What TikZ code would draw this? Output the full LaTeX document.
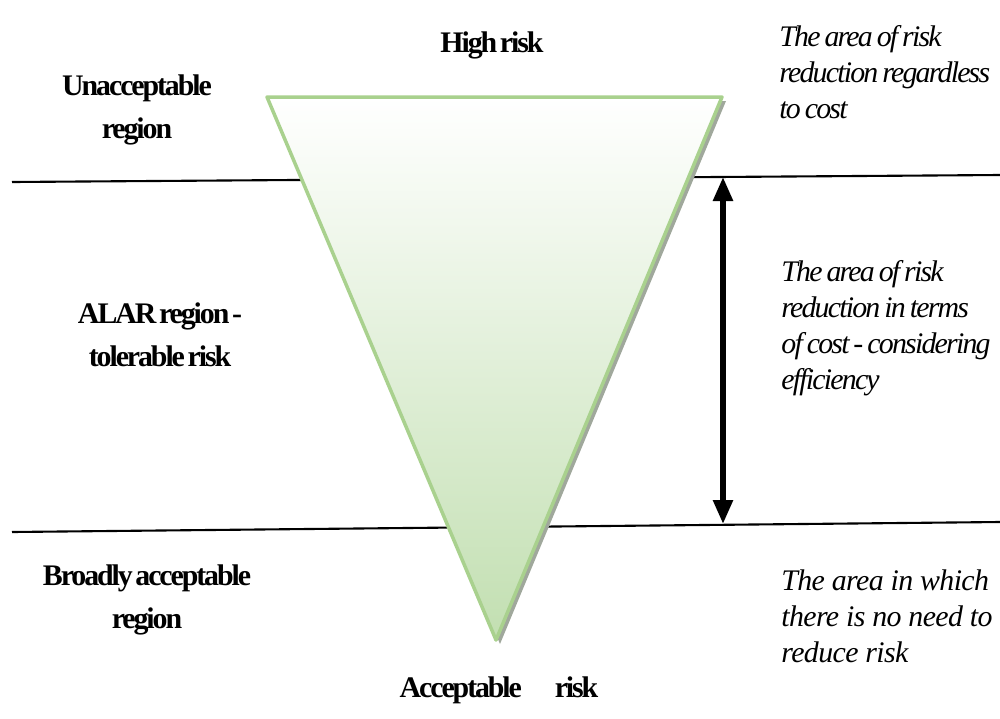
\documentclass[tikz,border=0pt]{standalone}
\usepackage{fontspec}
\setmainfont{Liberation Serif}
\newfontfamily\tightbf{Liberation Serif}[LetterSpace=-7,WordSpace=0.5]
\newfontfamily\tightit{Liberation Serif}[LetterSpace=-6,WordSpace=0.7]
\newfontfamily\plainit{Liberation Serif}[LetterSpace=-2]
\usepackage{tikz}
\usetikzlibrary{arrows.meta}
\definecolor{triGreen}{RGB}{169,209,142}
\definecolor{triFill}{RGB}{194,223,177}
\definecolor{triShadow}{RGB}{160,168,156}
\tikzset{
    zone/.style={inner sep=0pt, align=center, font=\tightbf\bfseries\fontsize{17}{24.5}\selectfont},
    endlabel/.style={zone},
    note/.style={inner sep=0pt, align=left, anchor=west, font=\tightit\itshape\fontsize{17}{20.5}\selectfont},
    border/.style={line width=1.2pt},
    span/.style={{Triangle[length=4.8mm,width=3.8mm]}-{Triangle[length=4.8mm,width=3.8mm]}, line width=1.1mm}
}

\begin{document}
\begin{tikzpicture}[x=0.2mm, y=-0.2mm]
\useasboundingbox (0,0) rectangle (1000,718);

% region borders
\coordinate (topL) at (12,182);
\coordinate (topR) at (1000,175);
\coordinate (botL) at (12,532);
\coordinate (botR) at (1000,522);
\draw[border] (topL) -- (topR);
\draw[border] (botL) -- (botR);

% risk triangle with its shadow
\coordinate (tl) at (267,97);
\coordinate (tr) at (722,97);
\coordinate (tip) at (496,640);
\fill[triShadow] ([shift={(4,4)}]tl) -- ([shift={(4,4)}]tr) -- ([shift={(4,4)}]tip) -- cycle;
\shade[top color=white, bottom color=triFill, draw=triGreen, line width=0.7mm, line join=round]
    (tl) -- (tr) -- (tip) -- cycle;

\node[endlabel] (high) at (492,45) {High risk};
\node[endlabel] (low) at (499,690) {Acceptable\hspace{1.1em}risk};

\node[zone] (unacc) at (137,110) {Unacceptable\\region};
\node[zone] (alar) at (160,335) {ALAR region -\\tolerable risk};
\node[zone] (broad) at (147,600) {Broadly acceptable\\region};

\node[note] (noteTop) at (779,72) {The area of risk\\reduction regardless\\to cost};
\node[note] (noteMid) at (781,328) {The area of risk\\reduction in terms\\of cost - considering\\efficiency};
\node[note, font=\plainit\itshape\fontsize{17}{20.5}\selectfont] (noteLow) at (781,616) {The area in which\\there is no need to\\reduce risk};

\coordinate (arrTop) at (723,177);
\coordinate (arrBot) at (723,524);
\draw[span] (arrTop) -- (arrBot);
\end{tikzpicture}
\end{document}
